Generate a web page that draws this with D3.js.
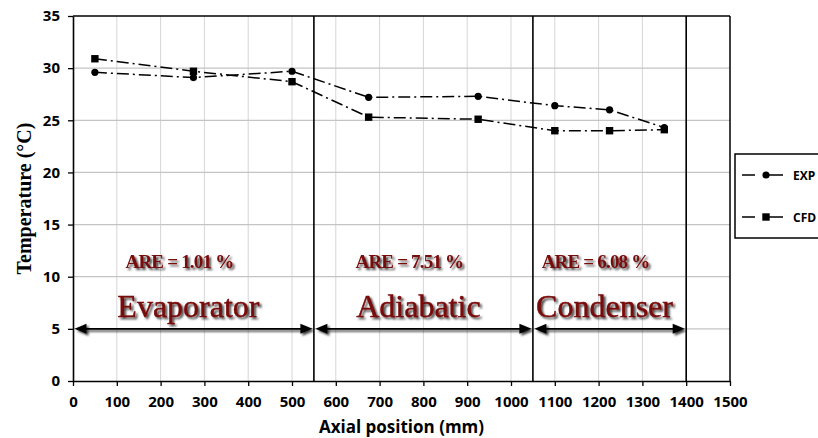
<!DOCTYPE html>
<html>
<head>
<meta charset="utf-8">
<script src="https://cdn.jsdelivr.net/npm/d3@7"></script>
<style>
  html, body { margin: 0; padding: 0; background: #fff; }
  svg { display: block; }
</style>
</head>
<body>
<div id="chart"></div>
<script>
// Data
const positions = [50, 275, 500, 675, 925, 1100, 1225, 1350];
const expTemp = [29.6, 29.1, 29.7, 27.2, 27.3, 26.4, 26.0, 24.3];
const cfdTemp = [30.9, 29.7, 28.7, 25.3, 25.1, 24.0, 24.0, 24.1];

const sectionBounds = [0, 550, 1050, 1400];
const sectionNames = ['Evaporator', 'Adiabatic', 'Condenser'];
const areValues = ['1.01', '7.51', '6.08'];

const xTicks = d3.range(0, 1501, 100);
const yTicks = d3.range(0, 36, 5);

const width = 818, height = 438;
const margin = { left: 73, right: 88, top: 16, bottom: 57 };
const innerW = width - margin.left - margin.right;
const innerH = height - margin.top - margin.bottom;

const svg = d3.select('#chart').append('svg')
  .attr('width', width)
  .attr('height', height);

// soft shadow used by the annotations
const defs = svg.append('defs');
defs.append('filter')
  .attr('id', 'shadow')
  .attr('x', '-10%').attr('y', '-30%')
  .attr('width', '130%').attr('height', '170%')
  .append('feDropShadow')
  .attr('dx', 2).attr('dy', 2)
  .attr('stdDeviation', 1.3)
  .attr('flood-color', '#000')
  .attr('flood-opacity', 0.75);

const x = d3.scaleLinear().domain([0, 1500]).range([margin.left, margin.left + innerW]);
const y = d3.scaleLinear().domain([0, 35]).range([margin.top + innerH, margin.top]);

// grid
const grid = svg.append('g');
grid.selectAll('.vg').data(xTicks.filter(d => d > 0 && d < 1500)).enter()
  .append('line')
  .attr('x1', d => x(d)).attr('x2', d => x(d))
  .attr('y1', y(0)).attr('y2', y(35))
  .attr('stroke', '#d6d6d6').attr('stroke-width', 1);
grid.selectAll('.hg').data(yTicks.filter(d => d > 0 && d < 35)).enter()
  .append('line')
  .attr('x1', x(0)).attr('x2', x(1500))
  .attr('y1', d => y(d)).attr('y2', d => y(d))
  .attr('stroke', '#c4c4c4').attr('stroke-width', 1.3);

// top / right frame
svg.append('line')
  .attr('x1', x(0)).attr('x2', x(1500)).attr('y1', y(35)).attr('y2', y(35))
  .attr('stroke', '#000').attr('stroke-width', 1.5);
svg.append('line')
  .attr('x1', x(1500)).attr('x2', x(1500)).attr('y1', y(35)).attr('y2', y(0))
  .attr('stroke', '#000').attr('stroke-width', 1.5);

// section divider lines
svg.append('g').selectAll('line')
  .data(sectionBounds.slice(1)).enter()
  .append('line')
  .attr('x1', d => x(d)).attr('x2', d => x(d))
  .attr('y1', y(35)).attr('y2', y(0))
  .attr('stroke', '#000').attr('stroke-width', 1.6);

// axes
const xAxis = svg.append('g')
  .attr('transform', `translate(0,${y(0)})`)
  .call(d3.axisBottom(x).tickValues(xTicks).tickFormat(d3.format('d'))
    .tickSize(5).tickPadding(10).tickSizeOuter(0));
const yAxis = svg.append('g')
  .attr('transform', `translate(${x(0)},0)`)
  .call(d3.axisLeft(y).tickValues(yTicks).tickFormat(d3.format('d'))
    .tickSize(5).tickPadding(8).tickSizeOuter(0));

[xAxis, yAxis].forEach(ax => {
  ax.select('.domain').attr('stroke', '#000').attr('stroke-width', 1.6);
  ax.selectAll('.tick line').attr('stroke', '#000').attr('stroke-width', 1.3);
  ax.selectAll('.tick text')
    .attr('fill', '#000')
    .style('font-family', '"Open Sans", sans-serif')
    .style('font-weight', 'bold')
    .style('font-size', '15px');
});

// axis titles
svg.append('text')
  .attr('x', (x(0) + x(1500)) / 2)
  .attr('y', 433)
  .attr('text-anchor', 'middle')
  .style('font-family', '"Open Sans", sans-serif')
  .style('font-weight', 'bold')
  .style('font-size', '17px')
  .text('Axial position (mm)');

svg.append('text')
  .attr('transform', `translate(31,${(y(0) + y(35)) / 2}) rotate(-90)`)
  .attr('text-anchor', 'middle')
  .style('font-family', '"Liberation Serif", "Times New Roman", serif')
  .style('font-weight', 'bold')
  .style('font-size', '20px')
  .text('Temperature (°C)');

// section arrows at T = 5
const sections = sectionNames.map((name, i) => ({
  name, are: areValues[i], x0: sectionBounds[i], x1: sectionBounds[i + 1]
}));

const arrowG = svg.append('g').attr('filter', 'url(#shadow)');
sections.forEach(s => {
  const a = x(s.x0) + 1.5, b = x(s.x1) - 1.5, yy = y(5);
  arrowG.append('line')
    .attr('x1', a + 8).attr('x2', b - 8).attr('y1', yy).attr('y2', yy)
    .attr('stroke', '#000').attr('stroke-width', 1.6);
  arrowG.append('path')
    .attr('d', `M${a},${yy} L${a + 12},${yy - 5} L${a + 12},${yy + 5} Z`)
    .attr('fill', '#000');
  arrowG.append('path')
    .attr('d', `M${b},${yy} L${b - 12},${yy - 5} L${b - 12},${yy + 5} Z`)
    .attr('fill', '#000');
});

// section labels
const labelG = svg.append('g').attr('filter', 'url(#shadow)');
sections.forEach(s => {
  const mid = (x(s.x0) + x(s.x1)) / 2;
  labelG.append('text')
    .attr('x', mid - 5)
    .attr('y', y(6.1))
    .attr('text-anchor', 'middle')
    .attr('fill', '#760808')
    .attr('stroke', '#760808')
    .attr('stroke-width', 0.4)
    .style('font-family', '"Liberation Serif", "Times New Roman", serif')
    .style('font-size', '32px')
    .text(s.name);
  labelG.append('text')
    .attr('x', mid - 14)
    .attr('y', y(10.8))
    .attr('text-anchor', 'middle')
    .attr('fill', '#760808')
    .style('font-family', '"Liberation Serif", "Times New Roman", serif')
    .style('font-weight', 'bold')
    .style('font-size', '19px')
    .style('letter-spacing', '-0.8px')
    .text(`ARE = ${s.are} %`);
});

// series
const series = [
  { name: 'EXP', values: expTemp, marker: 'circle' },
  { name: 'CFD', values: cfdTemp, marker: 'square' }
];
const line = d3.line().x(d => x(d[0])).y(d => y(d[1]));

function drawMarker(g, type, cx, cy) {
  if (type === 'circle') {
    g.append('circle').attr('cx', cx).attr('cy', cy).attr('r', 3.6).attr('fill', '#000');
  } else {
    g.append('rect').attr('x', cx - 3.7).attr('y', cy - 3.7)
      .attr('width', 7.4).attr('height', 7.4).attr('fill', '#000');
  }
}

series.forEach(s => {
  const pts = positions.map((p, i) => [p, s.values[i]]);
  svg.append('path')
    .datum(pts)
    .attr('d', line)
    .attr('fill', 'none')
    .attr('stroke', '#000')
    .attr('stroke-width', 1.5)
    .attr('stroke-dasharray', '12,4,2,4');
  const mg = svg.append('g');
  pts.forEach(p => drawMarker(mg, s.marker, x(p[0]), y(p[1])));
});

// legend
const legend = svg.append('g');
legend.append('rect')
  .attr('x', 735).attr('y', 154)
  .attr('width', 120).attr('height', 84)
  .attr('fill', '#fff').attr('stroke', '#000').attr('stroke-width', 1.5);
series.forEach((s, i) => {
  const ly = 175 + i * 42;
  legend.append('line')
    .attr('x1', 742).attr('x2', 783).attr('y1', ly).attr('y2', ly)
    .attr('stroke', '#000').attr('stroke-width', 1.5)
    .attr('stroke-dasharray', '13,9,19');
  drawMarker(legend, s.marker, 766, ly);
  legend.append('text')
    .attr('x', 793).attr('y', ly + 4.5)
    .style('font-family', '"Open Sans", sans-serif')
    .style('font-weight', 'bold')
    .style('font-size', '12px')
    .text(s.name);
});
</script>
</body>
</html>
